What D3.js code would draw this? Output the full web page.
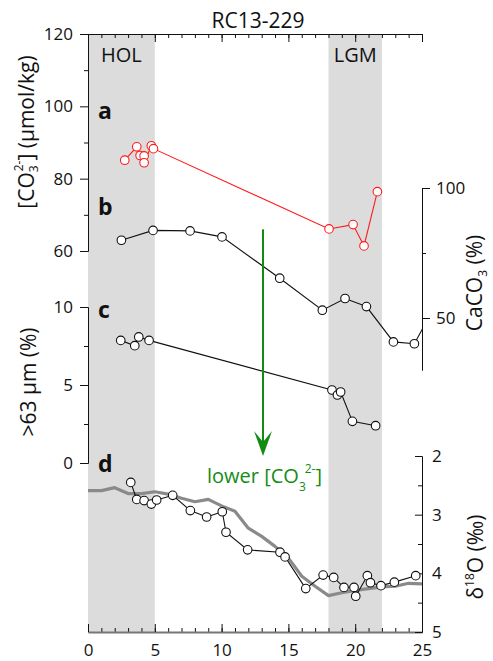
<!DOCTYPE html>
<html><head><meta charset="utf-8">
<script src="https://cdn.jsdelivr.net/npm/d3@7"></script>
<style>
body{margin:0;background:#fff}
svg{display:block}
text{font-family:"Open Sans",sans-serif}
</style>
</head><body>
<svg id="chart" width="493" height="661"></svg>
<script>
// ---------- data ----------
const title = "RC13-229";
const xTicks = [0, 5, 10, 15, 20, 25];
const xMinorTicks = d3.range(0, 26, 1);
const co3Ticks = [60, 80, 100, 120];
const co3MinorTicks = [70, 90, 110];
const caco3Ticks = [50, 100];
const caco3MinorTicks = [75];
const coarseTicks = [0, 5, 10];
const coarseMinorTicks = [2.5, 7.5];
const d18oTicks = [2, 3, 4, 5];
const d18oMinorTicks = [2.5, 3.5, 4.5];

const periodNames = ["HOL", "LGM"];
const periodStart = [0, 18];
const periodEnd = [5, 22];

// a: [CO3 2-] (umol/kg)
const co3Age = [2.75, 3.65, 3.9, 4.2, 4.2, 4.74, 4.9, 18.04, 19.84, 20.66, 21.66];
const co3Val = [85.1, 88.8, 86.4, 86.3, 84.4, 89.1, 88.3, 66.1, 67.3, 61.4, 76.4];

// b: CaCO3 (%)
const caco3Age = [2.5, 4.87, 7.64, 10.03, 14.35, 17.54, 19.24, 20.84, 22.86, 24.43, 26];
const caco3Val = [79.9, 83.7, 83.5, 81.2, 65.3, 53.0, 57.5, 54.4, 40.8, 40.1, 55];

// c: >63 um (%)
const coarseAge = [2.45, 3.5, 3.8, 4.57, 18.26, 18.67, 18.91, 19.79, 21.53];
const coarseVal = [7.86, 7.52, 8.08, 7.86, 4.68, 4.36, 4.55, 2.67, 2.39];

// d: benthic d18O (permil)
const d18oAge = [3.2, 3.65, 4.2, 4.74, 5.14, 6.34, 7.66, 8.88, 10.05, 10.33, 11.95, 14.37, 14.75, 16.3, 17.6, 18.39, 19.16, 19.91, 20.04, 20.91, 21.14, 21.93, 22.93, 24.53];
const d18oVal = [2.45, 2.74, 2.76, 2.82, 2.75, 2.67, 2.93, 3.04, 2.95, 3.30, 3.60, 3.64, 3.72, 4.26, 4.03, 4.07, 4.24, 4.24, 4.39, 4.04, 4.16, 4.21, 4.15, 4.04];

// d: reference stack (grey)
const stackAge = d3.range(0, 26, 1);
const stackVal = [2.59, 2.59, 2.54, 2.64, 2.64, 2.61, 2.65, 2.72, 2.78, 2.74, 2.85, 2.94, 3.23, 3.37, 3.54, 3.74, 4.05, 4.22, 4.38, 4.33, 4.29, 4.26, 4.23, 4.22, 4.17, 4.18];

// arrow annotation (data units)
const arrowAge = 13.1;
const arrowTopCO3 = 66;
const arrowTipD18O = 2.0;

// ---------- setup ----------
const svg = d3.select("#chart");
const FONT = '"Open Sans", sans-serif';
const TICKFS = 17;
const LABELFS = 21;
const GREEN = "#148c14";

const x = d3.scaleLinear().domain([0, 25]).range([88, 422]);
const yCO3 = d3.scaleLinear().domain([60, 120]).range([251, 34]);
const yCaCO3 = d3.scaleLinear().domain([30, 100]).range([370, 188]);
const yCoarse = d3.scaleLinear().domain([0, 10]).range([463, 307]);
const yD18O = d3.scaleLinear().domain([2, 5]).range([456, 632]);

const plotTop = 34, plotBottom = 632;

// shading
svg.append("g").selectAll("rect").data(periodNames).join("rect")
  .attr("x", (d, i) => x(periodStart[i]))
  .attr("width", (d, i) => x(periodEnd[i]) - x(periodStart[i]))
  .attr("y", plotTop).attr("height", plotBottom - plotTop)
  .attr("fill", "#dcdcdc");

svg.append("g").selectAll("text").data(periodNames).join("text")
  .attr("x", (d, i) => (x(periodStart[i]) + x(periodEnd[i])) / 2)
  .attr("y", 62)
  .attr("text-anchor", "middle")
  .attr("font-size", 20)
  .attr("fill", "#111")
  .text(d => d);

function styleAxis(g) {
  g.attr("font-family", FONT).attr("font-size", TICKFS);
  g.selectAll("text").attr("fill", "#111");
  g.selectAll("line").attr("stroke", "#111");
  g.select(".domain").attr("stroke", "#111");
}

// top axis (ticks inward)
svg.append("g").attr("transform", `translate(0,${plotTop})`)
  .call(d3.axisBottom(x).tickValues(xMinorTicks).tickSize(4).tickSizeOuter(0).tickFormat(""))
  .call(styleAxis);
svg.append("g").attr("transform", `translate(0,${plotTop})`)
  .call(d3.axisBottom(x).tickValues(xTicks).tickSize(8).tickSizeOuter(0).tickFormat(""))
  .call(styleAxis);

// bottom axis
svg.append("g").attr("transform", `translate(0,${plotBottom})`)
  .call(d3.axisBottom(x).tickValues(xMinorTicks).tickSize(-4).tickSizeOuter(0).tickFormat(""))
  .call(styleAxis);
const bAx = svg.append("g").attr("transform", `translate(0,${plotBottom})`)
  .call(d3.axisBottom(x).tickValues(xTicks).tickSize(-8).tickSizeOuter(0).tickPadding(12).tickFormat(d3.format("d")))
  .call(styleAxis);
bAx.select(".domain").attr("stroke", "#777").attr("stroke-width", 2);

// left CO3 axis
svg.append("g").attr("transform", "translate(88,0)")
  .call(d3.axisLeft(yCO3).tickValues(co3MinorTicks).tickSize(4).tickSizeOuter(0).tickFormat(""))
  .call(styleAxis);
svg.append("g").attr("transform", "translate(88,0)")
  .call(d3.axisLeft(yCO3).tickValues(co3Ticks).tickSize(8).tickSizeOuter(0).tickPadding(7))
  .call(styleAxis);

// left coarse axis
svg.append("g").attr("transform", "translate(88,0)")
  .call(d3.axisLeft(yCoarse).tickValues(coarseMinorTicks).tickSize(4).tickSizeOuter(0).tickFormat(""))
  .call(styleAxis);
svg.append("g").attr("transform", "translate(88,0)")
  .call(d3.axisLeft(yCoarse).tickValues(coarseTicks).tickSize(8).tickSizeOuter(0).tickPadding(7))
  .call(styleAxis);

// right CaCO3 axis
svg.append("g").attr("transform", "translate(422,0)")
  .call(d3.axisRight(yCaCO3).tickValues(caco3MinorTicks).tickSize(4).tickSizeOuter(0).tickFormat(""))
  .call(styleAxis);
svg.append("g").attr("transform", "translate(422,0)")
  .call(d3.axisRight(yCaCO3).tickValues(caco3Ticks).tickSize(8).tickSizeOuter(0).tickPadding(6))
  .call(styleAxis);

// right d18O axis (ticks inward, labels outside)
svg.append("g").attr("transform", "translate(422,0)")
  .call(d3.axisRight(yD18O).tickValues(d18oMinorTicks).tickSize(-4).tickSizeOuter(0).tickFormat(""))
  .call(styleAxis);
svg.append("g").attr("transform", "translate(422,0)")
  .call(d3.axisRight(yD18O).tickValues(d18oTicks).tickSize(-7).tickSizeOuter(0).tickPadding(10).tickFormat(d3.format("d")))
  .call(styleAxis);

// clip for series running past the right edge
svg.append("clipPath").attr("id", "plotclip")
  .append("rect").attr("x", x(0)).attr("y", 0).attr("width", x(25) - x(0) + 0.5).attr("height", 661);

// grey stack line
svg.append("path")
  .datum(stackAge.map((a, i) => [a, stackVal[i]]))
  .attr("fill", "none").attr("stroke", "#8a8a8a").attr("stroke-width", 3.2)
  .attr("stroke-linejoin", "round")
  .attr("d", d3.line().x(d => x(d[0])).y(d => yD18O(d[1])));

function series(ages, vals, yScale, color, clip) {
  const pts = ages.map((a, i) => [a, vals[i]]);
  const g = svg.append("g");
  if (clip) g.attr("clip-path", "url(#plotclip)");
  g.append("path").datum(pts)
    .attr("fill", "none").attr("stroke", color).attr("stroke-width", 1.1)
    .attr("d", d3.line().x(d => x(d[0])).y(d => yScale(d[1])));
  g.selectAll("circle").data(pts).join("circle")
    .attr("cx", d => x(d[0])).attr("cy", d => yScale(d[1]))
    .attr("r", 4.3).attr("fill", "#fff").attr("stroke", color).attr("stroke-width", 1.1);
}

series(co3Age, co3Val, yCO3, "#ff1a1a", false);
series(caco3Age, caco3Val, yCaCO3, "#111", true);
series(coarseAge, coarseVal, yCoarse, "#111", false);
series(d18oAge, d18oVal, yD18O, "#111", false);

// green arrow
const ax = x(arrowAge);
const ay0 = yCO3(arrowTopCO3);
const ay1 = yD18O(arrowTipD18O);
svg.append("line").attr("x1", ax).attr("x2", ax).attr("y1", ay0).attr("y2", ay1 - 12)
  .attr("stroke", GREEN).attr("stroke-width", 2);
svg.append("path")
  .attr("d", `M${ax},${ay1} L${ax - 9},${ay1 - 25} L${ax},${ay1 - 14} L${ax + 9},${ay1 - 25} Z`)
  .attr("fill", GREEN);

// green annotation text
const gt = svg.append("text").attr("x", 207).attr("y", 483).attr("font-size", 20).attr("fill", GREEN);
gt.append("tspan").text("lower [CO");
gt.append("tspan").text("3").attr("font-size", 12).attr("dy", 7.5);
gt.append("tspan").text("2-").attr("font-size", 12).attr("dx", -1).attr("dy", -17.5);
gt.append("tspan").text("]").attr("dy", 10);

// title
svg.append("text").attr("x", 258).attr("y", 27.5).attr("text-anchor", "middle")
  .attr("font-size", LABELFS).attr("fill", "#111").text(title);

// panel letters
const letters = ["a", "b", "c", "d"];
const letterY = [119, 215, 318, 472];
svg.append("g").selectAll("text").data(letters).join("text")
  .attr("x", 98).attr("y", (d, i) => letterY[i])
  .attr("font-size", 23).attr("font-weight", "bold").attr("fill", "#111")
  .text(d => d);

// rotated axis labels
function rotLabel(px, py, parts) {
  const t = svg.append("text")
    .attr("transform", `translate(${px},${py}) rotate(-90)`)
    .attr("text-anchor", "middle").attr("font-size", LABELFS).attr("fill", "#111");
  parts.forEach(p => {
    const s = t.append("tspan").text(p.t);
    if (p.s) s.attr("font-size", p.s);
    if (p.dy) s.attr("dy", p.dy);
    if (p.dx) s.attr("dx", p.dx);
  });
}
rotLabel(34, 132, [
  {t: "[CO"}, {t: "3", s: 12, dy: 4}, {t: "2-", s: 12, dx: -6, dy: -15}, {t: "] (μmol/kg)", dy: 11}
]);
rotLabel(36, 382, [{t: ">63 μm (%)"}]);
rotLabel(482, 283, [{t: "CaCO"}, {t: "3", s: 12, dy: 5}, {t: " (%)", dy: -5}]);
rotLabel(483, 557, [{t: "δ"}, {t: "18", s: 12, dy: -9}, {t: "O (‰)", dy: 9}]);
</script>
</body></html>
